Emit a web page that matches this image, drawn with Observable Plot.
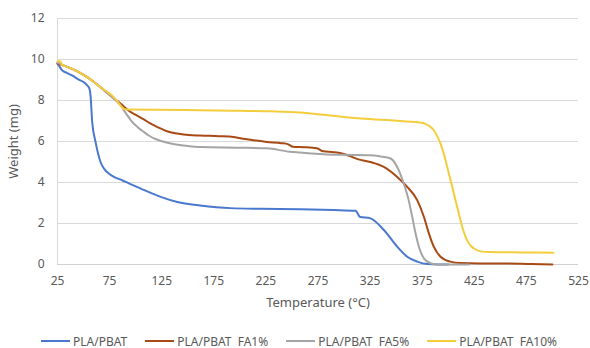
<!DOCTYPE html>
<html>
<head>
<meta charset="utf-8">
<script src="https://cdn.jsdelivr.net/npm/d3@7"></script>
<script src="https://cdn.jsdelivr.net/npm/@observablehq/plot@0.6"></script>
<style>
  html, body { margin: 0; padding: 0; background: #fff; }
  body { width: 590px; height: 348px; overflow: hidden; font-family: "Noto Sans", sans-serif; }
  #legend { display: flex; justify-content: center; gap: 18px; height: 14px; align-items: center; font-size: 12px; color: #595959; margin-left: 8px; }
  .item { display: flex; align-items: center; white-space: pre; }
  .sw { width: 29px; height: 2.5px; margin-right: 3px; }
</style>
</head>
<body>
<div id="chart"></div>
<div id="legend"></div>
<script>
const seriesNames = ["PLA/PBAT", "PLA/PBAT  FA1%", "PLA/PBAT  FA5%", "PLA/PBAT  FA10%"];
const seriesColors = ["#4a78cf", "#a84a14", "#a5a5a5", "#f3cd3c"];

const pbatT = [25,27,29.5,34,39,45,50,53.5,55.5,56.7,58.3,61.5,66.3,70,74.2,80,87,95,105,115,124,140,162,191,220,258,290,311,313,315,325.4,338.2,351,360.6,370.2,379.8,390,400];
const pbatW = [9.8,9.65,9.47,9.35,9.22,9.03,8.9,8.74,8.6,8.25,6.95,5.98,5.0,4.65,4.44,4.25,4.11,3.92,3.7,3.48,3.3,3.05,2.88,2.75,2.72,2.7,2.66,2.62,2.5,2.33,2.25,1.68,0.87,0.38,0.14,0.02,0,0];

const fa1T = [25,35,45,53.5,60,66,72,79,85.5,93.4,100,107.8,114,122,130,138,146,162,180,194,205,213,226,240,246,251,262,274,280,290,297,305,313,325.4,338.2,351,360.6,370.2,376.6,381.4,386.1,392.6,402,411.8,430,450,480,500];
const fa1W = [9.8,9.63,9.4,9.14,8.9,8.66,8.4,8.1,7.85,7.5,7.3,7.08,6.88,6.68,6.5,6.4,6.34,6.29,6.26,6.22,6.12,6.06,5.98,5.92,5.87,5.74,5.72,5.67,5.52,5.48,5.43,5.3,5.14,5.0,4.76,4.27,3.79,3.14,2.33,1.52,0.87,0.38,0.14,0.07,0.05,0.05,0.02,0];

const fa5T = [25,35,45,53.5,60,66,72,77,81,85.5,91,96.7,102,107.8,113,119,126,136,150,162,200,226,248,258,280,300,325.4,335,344.6,351,357.3,362,365.4,368.6,371.8,376.6,383,390,420];
const fa5W = [9.85,9.63,9.4,9.14,8.9,8.66,8.4,8.2,8.0,7.77,7.35,6.95,6.7,6.47,6.28,6.12,6.0,5.88,5.78,5.73,5.7,5.67,5.5,5.46,5.38,5.35,5.33,5.27,5.17,4.76,3.95,3.14,2.33,1.52,0.87,0.3,0.06,0,0];

const fa10T = [25,27,28.5,29,35,45,53.5,60,66,72,76,80,84,87,89.5,92,120,160,200,230,258,280,300,313,340,360,372,378,382,386,389,392.6,396,399,403.8,408.6,413.4,418,421,424.5,431,440,472,501];
const fa10W = [9.9,9.92,9.85,9.75,9.63,9.4,9.14,8.9,8.66,8.45,8.3,8.1,7.85,7.66,7.58,7.56,7.55,7.53,7.5,7.47,7.41,7.3,7.2,7.13,7.05,6.98,6.93,6.86,6.75,6.56,6.3,5.9,5.35,4.76,3.79,2.81,1.84,1.19,0.95,0.79,0.64,0.61,0.59,0.57];

const xTicks = [25,75,125,175,225,275,325,375,425,475,525];
const yTicks = [0,2,4,6,8,10,12];

const allT = [pbatT, fa1T, fa5T, fa10T];
const allW = [pbatW, fa1W, fa5W, fa10W];
const data = [];
allT.forEach((ts, i) => ts.forEach((t, j) => data.push({series: seriesNames[i], t, w: allW[i][j]})));

const plot = Plot.plot({
  width: 590,
  height: 334,
  marginLeft: 57,
  marginRight: 12,
  marginTop: 18,
  marginBottom: 70,
  style: {fontFamily: "Noto Sans, sans-serif", fontSize: "12px", color: "#595959", background: "#fff"},
  x: {domain: [25, 525]},
  y: {domain: [0, 12]},
  color: {domain: seriesNames, range: seriesColors},
  marks: [
    Plot.gridY(yTicks, {stroke: "#d9d9d9", strokeOpacity: 1, strokeWidth: 1}),
    Plot.ruleX([25], {stroke: "#d9d9d9", strokeWidth: 1}),
    Plot.ruleY([0], {stroke: "#d0d0d0", strokeWidth: 1}),
    Plot.axisX(xTicks, {tickSize: 0, tickPadding: 12, fontSize: 12, fill: "#595959", label: "Temperature (°C)", labelAnchor: "center", labelArrow: "none", labelOffset: 42}),
    Plot.axisY(yTicks, {tickSize: 0, tickPadding: 13, fontSize: 12, fill: "#595959", label: "Weight (mg)", labelAnchor: "center", labelArrow: "none", labelOffset: 49}),
    Plot.line(data, {x: "t", y: "w", z: "series", stroke: "series", strokeWidth: 2, curve: "monotone-x"})
  ]
});
document.getElementById("chart").appendChild(plot);
plot.querySelectorAll('[aria-label="x-axis label"] text, [aria-label="y-axis label"] text').forEach(t => { t.setAttribute("font-size", "13"); });

const legend = document.getElementById("legend");
seriesNames.forEach((n, i) => {
  const it = document.createElement("div");
  it.className = "item";
  const sw = document.createElement("span");
  sw.className = "sw";
  sw.style.background = seriesColors[i];
  const tx = document.createElement("span");
  tx.textContent = n;
  it.appendChild(sw); it.appendChild(tx);
  legend.appendChild(it);
});
</script>
</body>
</html>
